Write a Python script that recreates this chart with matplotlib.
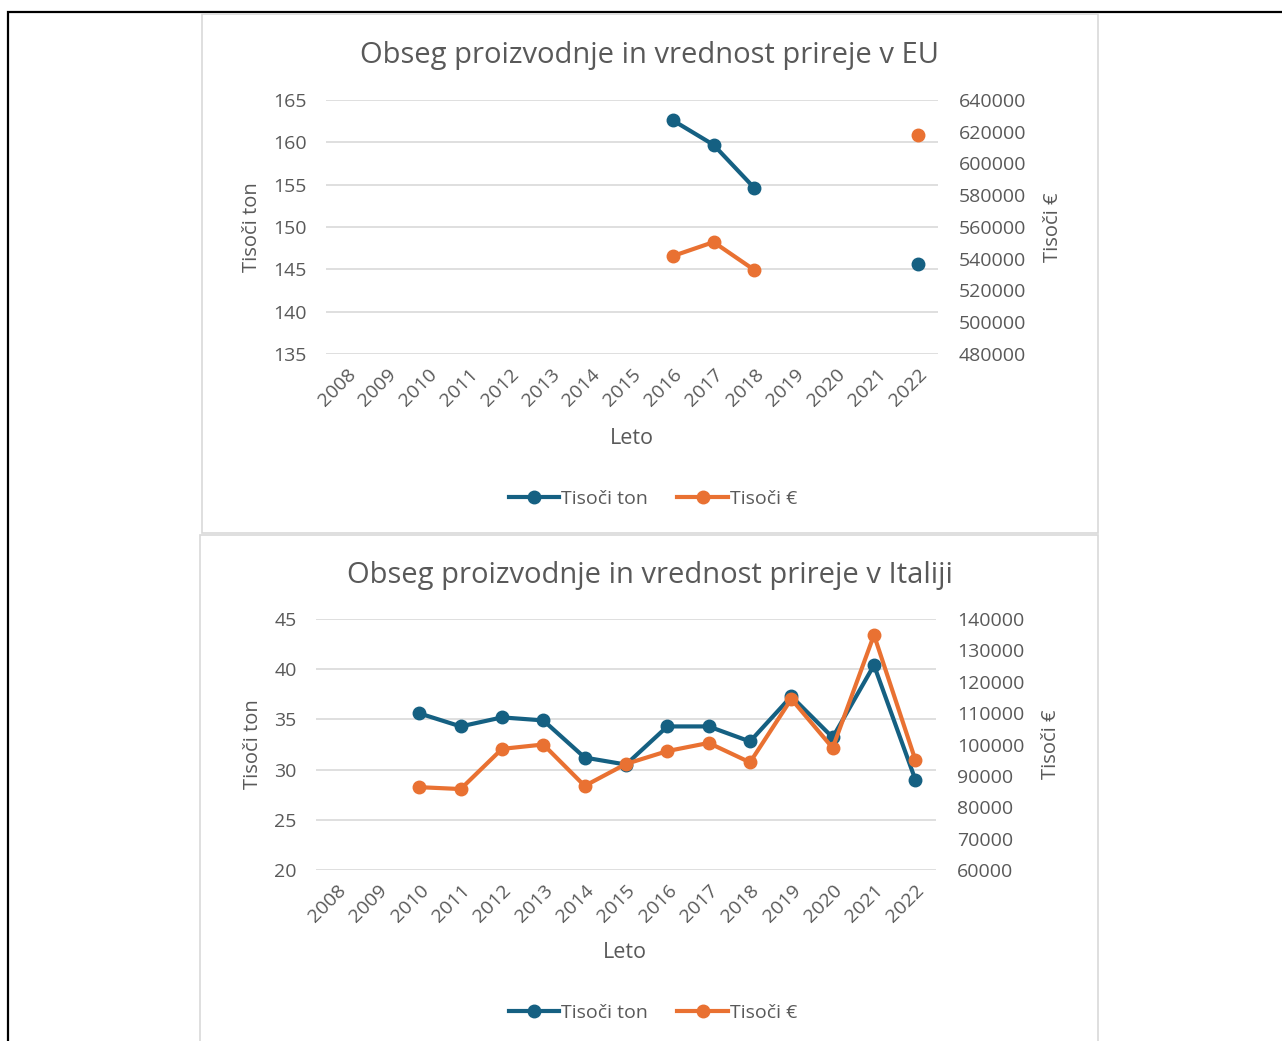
import numpy as np
import matplotlib
matplotlib.use("Agg")
import matplotlib.pyplot as plt
from matplotlib.patches import Rectangle
from matplotlib.lines import Line2D

plt.rcParams['font.family'] = ['Open Sans', 'DejaVu Sans']

years = [str(y) for y in range(2008, 2023)]
nan = np.nan

# EU
eu_ton = [nan, nan, nan, nan, nan, nan, nan, nan, 162.6, 159.7, 154.6, nan, nan, nan, 145.6]
eu_eur = [nan, nan, nan, nan, nan, nan, nan, nan, 541700, 550500, 532900, nan, nan, nan, 618000]

# Italija
it_ton = [nan, nan, 35.6, 34.3, 35.2, 34.9, 31.2, 30.5, 34.3, 34.3, 32.8, 37.3, 33.2, 40.4, 29.0]
it_eur = [nan, nan, 86400, 85800, 98600, 100000, 86800, 93800, 97900, 100500, 94300, 114500, 98900, 134900, 95100]

BLUE = "#156082"
ORANGE = "#E97132"
GREY = "#595959"
GRID = "#D9D9D9"

W, H = 1282, 1041
fig = plt.figure(figsize=(W / 100, H / 100), dpi=100)


def rect(x0, y0, x1, y1):
    return [x0 / W, 1 - y1 / H, (x1 - x0) / W, (y1 - y0) / H]


# outer frame and chart panels
fig.patches.append(Rectangle((8 / W, -0.1), 1.2, 1 - 12 / H + 0.1, transform=fig.transFigure,
                             fill=False, ec="black", lw=1.6))
fig.patches.append(Rectangle((202 / W, 1 - 533 / H), 896 / W, 519 / H, transform=fig.transFigure,
                             fill=False, ec="#D9D9D9", lw=1.2))
fig.patches.append(Rectangle((200 / W, -0.05), 898 / W, 1 - 535 / H + 0.05, transform=fig.transFigure,
                             fill=False, ec="#D9D9D9", lw=1.2))


def draw(box, ton, eur, ylim, yticks, y2lim, y2ticks, title, title_y, leto_xy, leg_y):
    ax = fig.add_axes(rect(*box))
    x = np.arange(len(years))
    ax2 = ax.twinx()
    ax.plot(x, ton, color=BLUE, lw=3, marker="o", ms=9, zorder=3)
    ax2.plot(x, eur, color=ORANGE, lw=3, marker="o", ms=9, zorder=3)
    ax.set_xlim(-0.5, len(years) - 0.5)
    ax.set_ylim(*ylim)
    ax.set_yticks(yticks)
    ax2.set_ylim(*y2lim)
    ax2.set_yticks(y2ticks)
    ax.yaxis.grid(True, color=GRID, lw=1.2)
    ax.set_axisbelow(True)
    ax.set_xticks(x)
    ax.set_xticklabels(years, rotation=45, ha="right", rotation_mode="anchor")
    for a in (ax, ax2):
        for s in a.spines.values():
            s.set_visible(False)
        a.tick_params(length=0, colors=GREY, labelsize=14)
    ax.tick_params(axis="y", pad=14)
    ax2.tick_params(axis="y", pad=15)
    ax.tick_params(axis="x", pad=8)
    ax.set_ylabel("Tisoči ton", color=GREY, fontsize=14.5, labelpad=8)
    ax2.set_ylabel("Tisoči €", color=GREY, fontsize=14.5, labelpad=12)
    fig.text(650 / W, 1 - title_y / H, title, ha="center", va="center", color=GREY, fontsize=21)
    fig.text(leto_xy[0] / W, 1 - leto_xy[1] / H, "Leto", ha="center", va="center", color=GREY, fontsize=15.5)
    handles = [Line2D([], [], color=BLUE, lw=3, marker="o", ms=9),
               Line2D([], [], color=ORANGE, lw=3, marker="o", ms=9)]
    fig.legend(handles, ["Tisoči ton", "Tisoči €"], loc="center", bbox_to_anchor=(653 / W, 1 - leg_y / H),
               ncol=2, frameon=False, fontsize=14, labelcolor=GREY, handlelength=2.6,
               handletextpad=0.1, columnspacing=1.5)


draw((326, 100, 938, 354), eu_ton, eu_eur, (135, 165), range(135, 166, 5),
     (480000, 640000), range(480000, 640001, 20000),
     "Obseg proizvodnje in vrednost prireje v EU", 55, (632, 438), 499)

draw((316, 619, 936, 870), it_ton, it_eur, (20, 45), range(20, 46, 5),
     (60000, 140000), range(60000, 140001, 10000),
     "Obseg proizvodnje in vrednost prireje v Italiji", 575, (625, 953), 1013)

fig.savefig("out.png", dpi=100)
